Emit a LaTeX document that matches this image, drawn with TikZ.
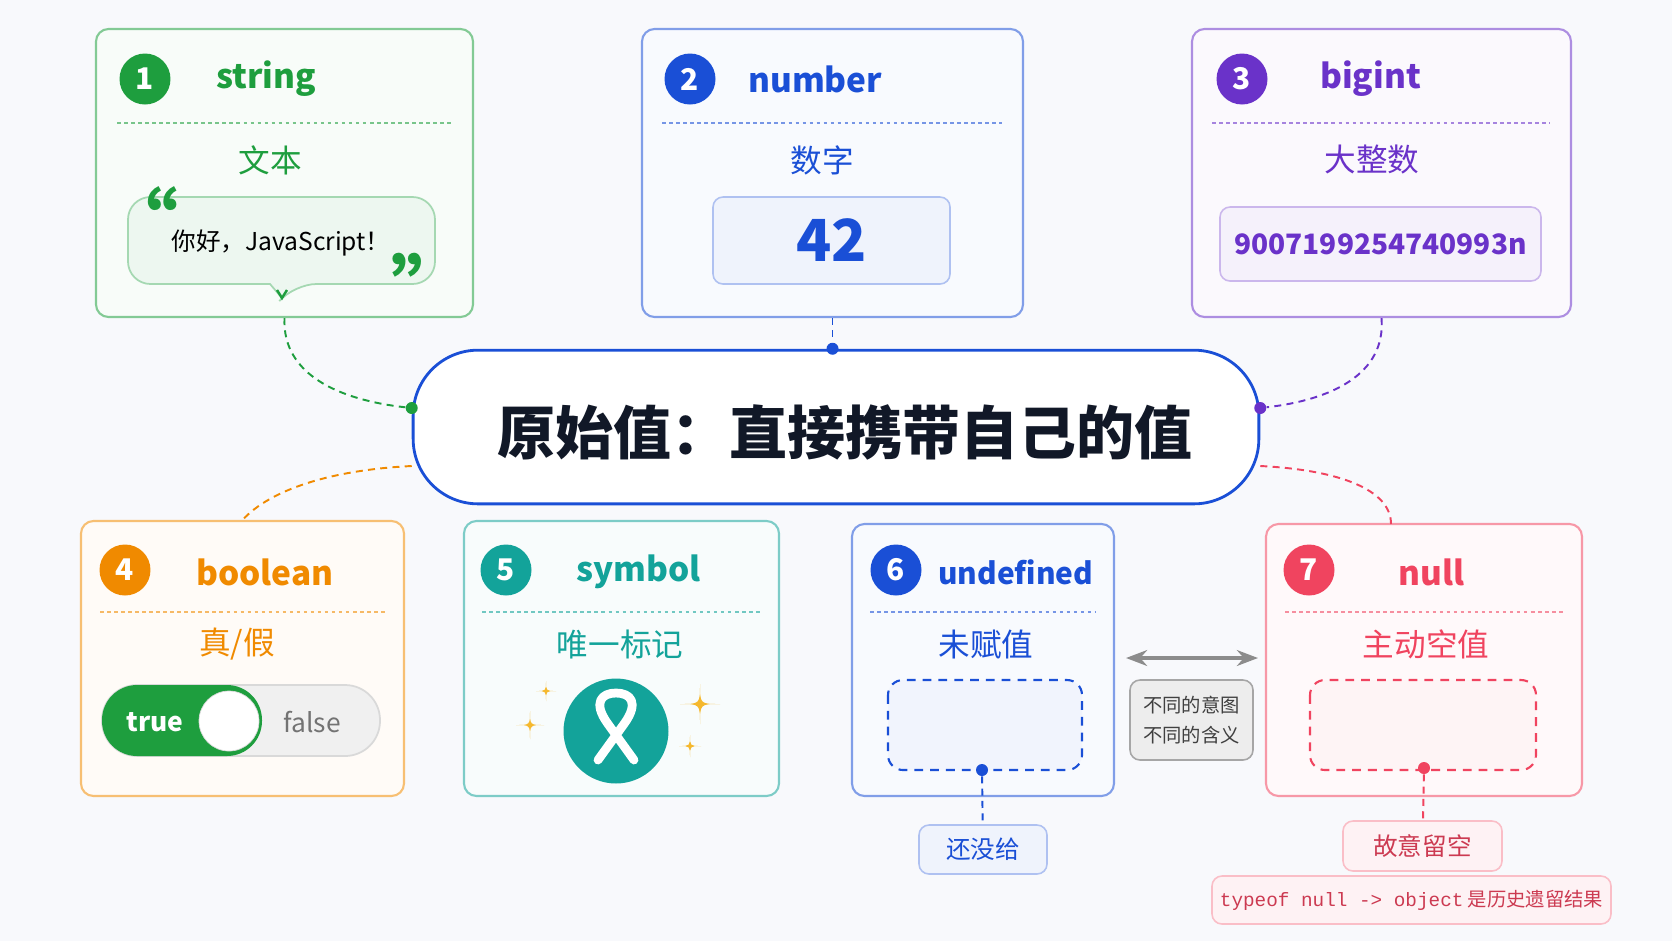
\documentclass[tikz,border=0pt]{standalone}
\usepackage{fontspec}
\setmainfont{Noto Sans CJK SC}
\newfontfamily\monofont{Liberation Mono}
\usetikzlibrary{arrows.meta,calc,fit,positioning}
\definecolor{cgreen}{HTML}{1E9E3E}
\definecolor{cblue}{HTML}{1A4FD6}
\definecolor{cpurple}{HTML}{6A32C9}
\definecolor{corange}{HTML}{F08A00}
\definecolor{cteal}{HTML}{13A39A}
\definecolor{cred}{HTML}{F0445F}
\definecolor{cdark}{HTML}{111827}
\definecolor{cgold}{HTML}{F5B82E}
\definecolor{cpaper}{HTML}{F8F9FC}
\tikzset{
  >=Stealth,
  card/.style={draw=#1!55, fill=#1!3, line width=1.2pt, rounded corners=0.25cm, inner sep=0pt},
  badge/.style={circle, fill=#1, text=white, minimum size=1.02cm, inner sep=0pt,
                font=\fontsize{17}{17}\selectfont\bfseries},
  ctitle/.style={text=#1, font=\fontsize{19}{19}\selectfont\bfseries},
  csub/.style={text=#1, font=\fontsize{18}{18}\selectfont},
  sep/.style={draw=#1!60, line width=0.8pt, dash pattern=on 2pt off 2pt},
  link/.style={draw=#1, line width=1.1pt, dash pattern=on 4pt off 3pt},
  dot/.style={circle, fill=#1, minimum size=0.24cm, inner sep=0pt},
  tag/.style={draw=#1!35, fill=#1!7, rounded corners=0.2cm, line width=0.9pt, inner sep=0pt},
}
\newcommand{\spark}[3]{%
  \fill[cgold] (#1,#2-#3) .. controls (#1,#2) .. (#1+#3,#2) .. controls (#1,#2) .. (#1,#2+#3)
    .. controls (#1,#2) .. (#1-#3,#2) .. controls (#1,#2) .. cycle;}
\begin{document}
\begin{tikzpicture}[x=0.02cm, y=-0.02cm]
  \fill[cpaper] (0,0) rectangle (1672,941);
  % cards
  \node [card=cgreen,  fit={(96,29) (473,317)}]   (str)   {};
  \node [card=cblue,   fit={(642,29) (1023,317)}] (num)   {};
  \node [card=cpurple, fit={(1192,29) (1571,317)}] (big)  {};
  \node [card=corange, fit={(81,521) (404,796)}]  (bool)  {};
  \node [card=cteal,   fit={(464,521) (779,796)}] (sym)   {};
  \node [card=cblue,   fit={(852,524) (1114,796)}] (undef) {};
  \node [card=cred,    fit={(1266,524) (1582,796)}] (nul) {};
  % headers
  \node [badge=cgreen]  (b1) at (145,79) {1};
  \node [ctitle=cgreen, anchor=west] at (210,79) {string};
  \node [badge=cblue]   (b2) at (690,79) {2};
  \node [ctitle=cblue, anchor=west] at (742,79) {number};
  \node [badge=cpurple] (b3) at (1242,79) {3};
  \node [ctitle=cpurple, anchor=west] at (1314,79) {bigint};
  \node [badge=corange] (b4) at (125,570) {4};
  \node [ctitle=corange, anchor=west] at (190,572) {boolean};
  \node [badge=cteal]   (b5) at (506,570) {5};
  \node [ctitle=cteal, anchor=west] at (570,572) {symbol};
  \node [badge=cblue]   (b6) at (896,570) {6};
  \node [ctitle=cblue, anchor=west, font=\fontsize{17}{17}\selectfont\bfseries] at (932,572) {undefined};
  \node [badge=cred]    (b7) at (1309,570) {7};
  \node [ctitle=cred, anchor=west] at (1392,572) {null};
  \draw [sep=cgreen]  (117,123) -- (452,123);
  \draw [sep=cblue]   (662,123) -- (1002,123);
  \draw [sep=cpurple] (1212,123) -- (1550,123);
  \draw [sep=corange] (100,612) -- (385,612);
  \draw [sep=cteal]   (482,612) -- (762,612);
  \draw [sep=cblue]   (870,612) -- (1096,612);
  \draw [sep=cred]    (1285,612) -- (1563,612);
  \node [csub=cgreen]  at (270,160)  {文本};
  \node [csub=cblue]   at (822,160)  {数字};
  \node [csub=cpurple] at (1372,160) {大整数};
  \node [csub=corange] at (237,644)  {真/假};
  \node [csub=cteal]   at (620,644)  {唯一标记};
  \node [csub=cblue]   at (986,644)  {未赋值};
  \node [csub=cred]    at (1426,644) {主动空值};
  % string bubble
  \draw [draw=cgreen!40, fill=cgreen!8, line width=1pt, rounded corners=0.45cm]
    (128,197) -- (435,197) -- (435,284) -- (294,284) [rounded corners=0pt] -- (282,298) -- (270,284)
    [rounded corners=0.45cm] -- (128,284) -- cycle;
  \draw [cgreen, line width=1.4pt] (277,290) -- (282,298) -- (287,290);
  \node (hello) at (281,243) {\fontsize{14}{14}\selectfont 你好，JavaScript！};
  \node [text=cgreen, font=\fontsize{42}{42}\selectfont\bfseries] at (141,218) {“};
  \node [text=cgreen, font=\fontsize{42}{42}\selectfont\bfseries] at (428,285) {”};
  % number / bigint values
  \node [tag=cblue, fit={(713,197) (950,284)}] (val42) {};
  \node [text=cblue, font=\fontsize{33}{33}\selectfont\bfseries] at (val42) {42};
  \node [tag=cpurple, fit={(1220,207) (1541,281)}] (valbig) {};
  \node [text=cpurple, font=\fontsize{16}{16}\selectfont\bfseries] at (valbig) {9007199254740993n};
  % central node
  \node [draw=cblue, fill=white, line width=1.6pt, rounded corners=1.3cm,
         fit={(419,356) (1253,498)}] (prim) {};
  \node [text=cdark, font=\fontsize{33}{33}\selectfont\bfseries] at (845,432) {原始值：直接携带自己的值};
  % connectors
  \node [dot=cgreen]  (pl) at ($(prim.west)+(0,-19)$) {};
  \node [dot=cblue]   (pt) at (prim.north -| num.south) {};
  \node [dot=cpurple] (pr) at ($(prim.east)+(0,-19)$) {};
  \draw [link=cgreen]  (str.south) .. controls (282,375) and (340,400) .. (pl);
  \draw [link=cblue]   (num.south) -- (pt);
  \draw [link=cpurple] (big.south) .. controls (1386,375) and (1330,400) .. (pr);
  \draw [link=corange] ($(prim.west)+(0,39)$) .. controls (330,470) and (270,490) .. (bool.north);
  \draw [link=cred]    ($(prim.east)+(0,39)$) .. controls (1340,470) and (1391,490) .. (1391,524);
  % boolean toggle
  \draw [fill=black!6, draw=black!15, line width=1pt, rounded corners=0.7cm] (102,685) rectangle (380,756);
  \fill [cgreen, rounded corners=0.7cm] (102,685) rectangle (262,756);
  \node [circle, fill=white, draw=black!15, minimum size=1.2cm] (knob) at (229,721) {};
  \node [text=white, font=\fontsize{15}{15}\selectfont\bfseries] at (155,722) {true};
  \node [text=black!55, font=\fontsize{15}{15}\selectfont] at (312,722) {false};
  % symbol icon
  \node [circle, fill=cteal, minimum size=2.1cm] (icon) at (616,731) {};
  \draw [white, line width=5pt, line cap=round, line join=round]
    (598,760) -- (624,724) .. controls (640,702) and (630,693) .. (616,693)
    .. controls (602,693) and (592,702) .. (608,724) -- (634,760);
  \spark{700}{704}{20}
  \spark{546}{691}{10}
  \spark{530}{725}{14}
  \spark{690}{746}{11}
  % undefined / null slots
  \draw [cblue, fill=cblue!6, line width=1.2pt, dash pattern=on 5pt off 4pt, rounded corners=0.3cm]
    (888,680) rectangle (1082,770);
  \draw [cred, fill=cred!6, line width=1.2pt, dash pattern=on 5pt off 4pt, rounded corners=0.3cm]
    (1310,680) rectangle (1536,770);
  \node [dot=cblue] (ud) at (982,770) {};
  \node [dot=cred]  (nd) at (1424,768) {};
  \node [tag=cblue, fit={(919,825) (1047,874)}] (notyet) {};
  \node [text=cblue, font=\fontsize{14}{14}\selectfont] at (notyet) {还没给};
  \node [tag=cred, fit={(1343,821) (1502,871)}] (onpurpose) {};
  \node [text=cred!85!black, font=\fontsize{14}{14}\selectfont] at (onpurpose) {故意留空};
  \node [tag=cred, fit={(1212,876) (1611,924)}] (legacy) {};
  \node [text=cred!85!black, font=\fontsize{11}{11}\selectfont] at (legacy) {{\monofont typeof null -> object} 是历史遗留结果};
  \draw [link=cblue] (ud) -- (notyet);
  \draw [link=cred]  (nd) -- (onpurpose);
  % comparison
  \node [tag=black, fit={(1130,680) (1253,760)}] (diff) {};
  \node [align=left, text=black!75, font=\fontsize{11}{17}\selectfont] at (diff) {不同的意图\\不同的含义};
  \coordinate (al) at (1126,658);
  \coordinate (ar) at (1258,658);
  \draw [<->, black!45, line width=2pt] (al) -- (ar);
\end{tikzpicture}
\end{document}
